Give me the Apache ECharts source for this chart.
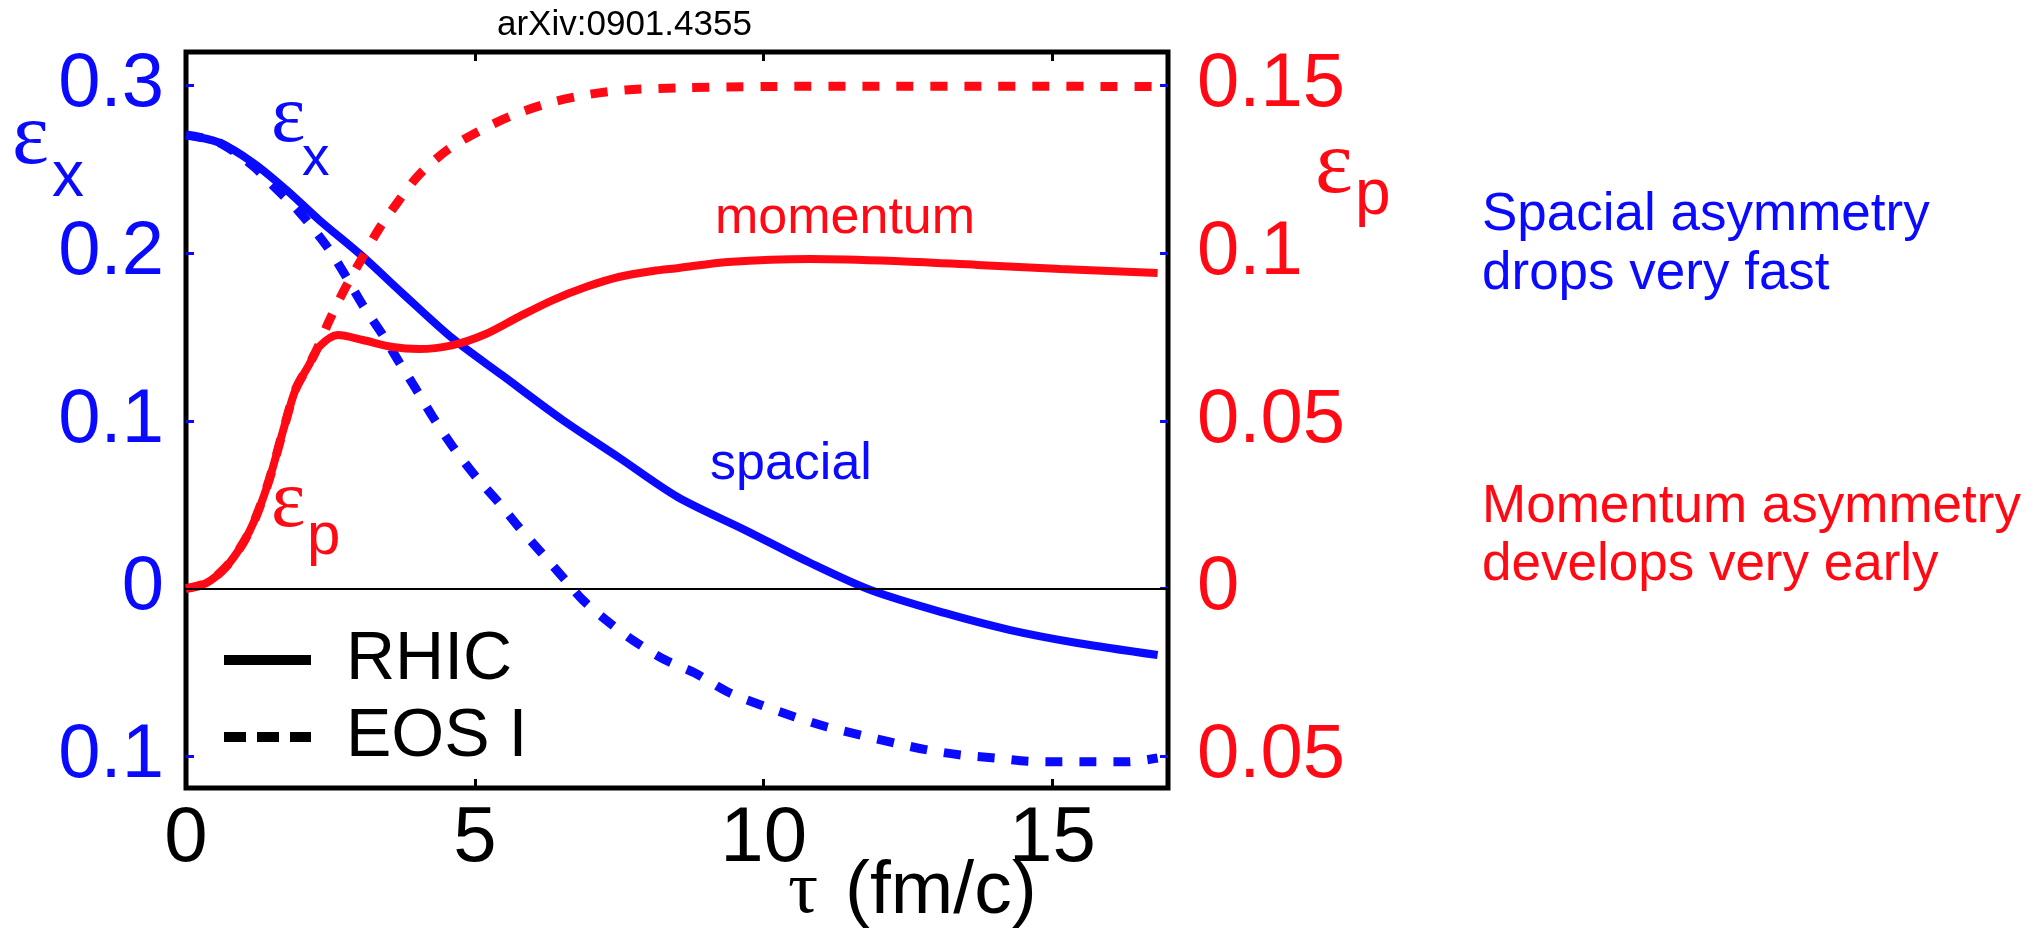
<!DOCTYPE html>
<html>
<head>
<meta charset="utf-8">
<script src="https://cdn.jsdelivr.net/npm/echarts@6/dist/echarts.min.js"></script>
<style>
  html, body { margin: 0; padding: 0; background: #fff; }
  #chart { width: 2030px; height: 932px; }
</style>
</head>
<body>
<div id="chart"></div>
<script>
// spatial eccentricity (left axis), tau in fm/c
var rhicXTau = [0, 0.57, 1.16, 1.73, 2.3, 3.06, 3.75, 4.62, 5.48, 6.52, 7.5, 8.51, 9.67, 10.81, 11.85, 13.13, 14.27, 15.43, 16.82];
var rhicX = [0.2705, 0.266, 0.254, 0.238, 0.220, 0.198, 0.176, 0.149, 0.127, 0.1005, 0.078, 0.0546, 0.035, 0.0152, -0.0009, -0.0146, -0.0248, -0.0325, -0.0397];
var eosXTau = [0, 0.57, 1.16, 1.44, 1.96, 2.42, 2.72, 3.06, 3.41, 3.69, 3.98, 4.27, 4.62, 5.02, 5.42, 5.76, 6.11, 6.52, 6.87, 7.27, 7.73, 8.3, 8.81, 9.38, 9.95, 10.54, 11.1, 11.68, 12.27, 12.84, 13.41, 14.0, 14.57, 15.14, 15.73, 16.3, 16.82];
var eosX = [0.2705, 0.266, 0.252, 0.2425, 0.2246, 0.205, 0.189, 0.169, 0.151, 0.135, 0.119, 0.1025, 0.0845, 0.0666, 0.051, 0.0367, 0.023, 0.0069, -0.0069, -0.0188, -0.0307, -0.0427, -0.0504, -0.0617, -0.0695, -0.0766, -0.0826, -0.0874, -0.0922, -0.0963, -0.0993, -0.1011, -0.103, -0.1034, -0.1034, -0.1034, -0.1011];

// momentum eccentricity (right axis)
var rhicPTau = [0, 0.35, 0.69, 0.99, 1.21, 1.44, 1.68, 1.9, 2.13, 2.3, 2.63, 3.06, 3.58, 4.03, 4.62, 5.19, 5.76, 6.35, 6.92, 7.49, 8.08, 8.53, 9.38, 10.81, 12.27, 13.7, 15.14, 16.82];
var rhicP = [0, 0.0016, 0.0064, 0.0136, 0.0213, 0.0324, 0.047, 0.0595, 0.0667, 0.072, 0.0756, 0.0741, 0.072, 0.0714, 0.0726, 0.0759, 0.081, 0.086, 0.0899, 0.0929, 0.0947, 0.0956, 0.0974, 0.0983, 0.0977, 0.0965, 0.0953, 0.0941];
var eosPTau = [0, 0.35, 0.69, 0.99, 1.21, 1.44, 1.68, 1.9, 2.13, 2.3, 2.47, 2.72, 3.06, 3.34, 3.69, 4.03, 4.55, 5.14, 5.71, 6.35, 6.92, 7.61, 8.53, 10, 12, 14, 16.82];
var eosP = [0, 0.0016, 0.0064, 0.0136, 0.0213, 0.0324, 0.047, 0.0595, 0.0667, 0.0726, 0.0795, 0.0884, 0.0989, 0.1072, 0.1158, 0.1233, 0.1311, 0.137, 0.1415, 0.1451, 0.1472, 0.1487, 0.1493, 0.1497, 0.1498, 0.1498, 0.1497];

var xTicks = [0, 5, 10, 15];
var leftTicks = [-0.1, 0, 0.1, 0.2, 0.3];
var rightTicks = [-0.05, 0, 0.05, 0.1, 0.15];

var BLUE = "#0a0aff";
var RED = "#ff0a14";
var SANS = "'Liberation Sans', Arial, sans-serif";
var SERIF = "'Liberation Serif', 'DejaVu Serif', serif";

function zip(xs, ys) {
  return xs.map(function (x, i) { return [x, ys[i]]; });
}
function absLabel(v) {
  return String(Math.abs(Math.round(v * 100) / 100));
}
function txt(x, y, text, size, color, family) {
  return {
    type: "text", x: x, y: y, silent: true,
    style: {
      text: text, fill: color, textAlign: "left", textVerticalAlign: "middle",
      font: size + "px " + (family || SANS)
    }
  };
}

var myChart = echarts.init(document.getElementById("chart"));
var option = {
  animation: false,
  backgroundColor: "#fff",
  grid: {
    left: 186, right: 862, top: 52, bottom: 144,
    show: true, borderColor: "#000", borderWidth: 5
  },
  legend: {
    orient: "vertical",
    left: 214, top: 621,
    itemWidth: 87, itemHeight: 10, itemGap: 9,
    textStyle: { fontSize: 68, fontFamily: SANS, color: "#000", padding: [0, 0, 0, 30] },
    data: [
      { name: "RHIC", itemStyle: { opacity: 0 }, lineStyle: { color: "#000", width: 10, type: "solid" } },
      { name: "EOS I", itemStyle: { opacity: 0 }, lineStyle: { color: "#000", width: 10, type: [22, 11] } }
    ]
  },
  xAxis: [
    {
      type: "value", min: 0, max: 17, position: "bottom",
      axisLine: { show: false, onZero: false },
      splitLine: { show: false },
      axisTick: { inside: true, length: 9, lineStyle: { color: "#000", width: 3 }, customValues: [5, 10, 15] },
      axisLabel: { customValues: xTicks, fontSize: 78, fontFamily: SANS, color: "#000", margin: 12 }
    },
    {
      type: "value", min: 0, max: 17, position: "top",
      axisLine: { show: false, onZero: false },
      splitLine: { show: false },
      axisTick: { inside: true, length: 9, lineStyle: { color: "#000", width: 3 }, customValues: [5, 10, 15] },
      axisLabel: { show: false }
    }
  ],
  yAxis: [
    {
      type: "value", min: -0.119, max: 0.32, position: "left",
      axisLine: { show: false, onZero: false },
      splitLine: { show: false },
      axisTick: { inside: true, length: 8, lineStyle: { color: BLUE, width: 3 }, customValues: leftTicks },
      axisLabel: { customValues: leftTicks, formatter: absLabel, fontSize: 76, fontFamily: SANS, color: BLUE, margin: 22 }
    },
    {
      type: "value", min: -0.0595, max: 0.16, position: "right",
      axisLine: { show: false, onZero: false },
      splitLine: { show: false },
      axisTick: { inside: true, length: 8, lineStyle: { color: BLUE, width: 3 }, customValues: rightTicks },
      axisLabel: { customValues: rightTicks, formatter: absLabel, fontSize: 76, fontFamily: SANS, color: RED, margin: 29 }
    }
  ],
  series: [
    {
      name: "RHIC", type: "line", yAxisIndex: 0, data: zip(rhicXTau, rhicX),
      symbol: "none", smooth: 0.3,
      lineStyle: { color: BLUE, width: 8 }, itemStyle: { color: BLUE },
      markLine: {
        silent: true, symbol: "none", label: { show: false },
        lineStyle: { color: "#000", width: 2, type: "solid" },
        data: [{ yAxis: 0 }]
      }
    },
    {
      name: "EOS I", type: "line", yAxisIndex: 0, data: zip(eosXTau, eosX),
      symbol: "none", smooth: 0.3,
      lineStyle: { color: BLUE, width: 9, type: [17, 17] }, itemStyle: { color: BLUE }
    },
    {
      name: "RHIC", type: "line", yAxisIndex: 1, data: zip(rhicPTau, rhicP),
      symbol: "none", smooth: 0.3,
      lineStyle: { color: RED, width: 8 }, itemStyle: { color: RED }
    },
    {
      name: "EOS I", type: "line", yAxisIndex: 1, data: zip(eosPTau, eosP),
      symbol: "none", smooth: 0.3,
      lineStyle: { color: RED, width: 9, type: [17, 17] }, itemStyle: { color: RED }
    }
  ],
  graphic: [
    txt(497, 25, "arXiv:0901.4355", 35, "#000"),
    // axis titles
    txt(12, 140, "ε", 88, BLUE, SERIF),
    txt(52, 178, "x", 64, BLUE),
    txt(1315, 168, "ε", 90, RED, SERIF),
    txt(1355, 196, "p", 64, RED),
    txt(788, 892, "τ", 75, "#000", SERIF),
    txt(845, 892, "(fm/c)", 75, "#000"),
    // in-plot labels
    txt(271, 119, "ε", 82, BLUE, SERIF),
    txt(302, 160, "x", 55, BLUE),
    txt(271, 504, "ε", 82, RED, SERIF),
    txt(307, 537, "p", 60, RED),
    txt(715, 219, "momentum", 52, RED),
    txt(710, 465, "spacial", 52, BLUE),
    // notes on the right
    txt(1482, 215, "Spacial asymmetry", 53, BLUE),
    txt(1482, 274, "drops very fast", 53, BLUE),
    txt(1482, 507, "Momentum asymmetry", 53, RED),
    txt(1482, 565, "develops very early", 53, RED)
  ]
};
myChart.setOption(option);
</script>
</body>
</html>
